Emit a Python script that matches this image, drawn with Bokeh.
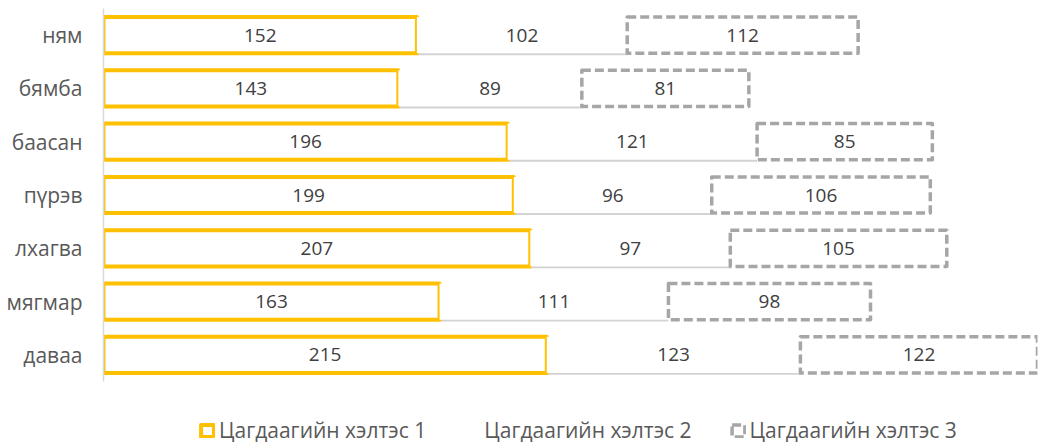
import numpy as np
from bokeh.plotting import figure
from bokeh.models import ColumnDataSource, Range1d, Legend, LegendItem, FixedTicker
from bokeh.transform import dodge
from bokeh.core.properties import value
from bokeh.embed import file_html
from bokeh.resources import INLINE

# ---- data (top to bottom as in the chart) ----
days = ["ням", "бямба", "баасан", "пүрэв", "лхагва", "мягмар", "даваа"]
series_names = ["Цагдаагийн хэлтэс 1", "Цагдаагийн хэлтэс 2", "Цагдаагийн хэлтэс 3"]
s1 = [152, 143, 196, 199, 207, 163, 215]
s2 = [102, 89, 121, 96, 97, 111, 123]
s3 = [112, 81, 85, 106, 105, 98, 122]

XMAX = 453
FONT = "Open Sans"

n = len(days)
ypos = list(range(n - 1, -1, -1))  # first category at the top
a1, a2, a3 = np.array(s1), np.array(s2), np.array(s3)
l1 = np.zeros(n); r1 = a1
l2 = r1; r2 = r1 + a2
l3 = r2; r3 = r2 + a3

src = ColumnDataSource(dict(
    y=ypos,
    l1=l1, r1=r1, l2=l2, r2=r2, l3=l3, r3=r3,
    c1=(l1 + np.minimum(r1, XMAX)) / 2,
    c2=(l2 + np.minimum(r2, XMAX)) / 2,
    c3=(l3 + np.minimum(r3, XMAX)) / 2,
    t1=[str(v) for v in s1], t2=[str(v) for v in s2], t3=[str(v) for v in s3],
))

p = figure(width=1040, height=444, output_backend="svg", toolbar_location=None,
           y_range=Range1d(-1.682, n - 0.5),
           x_range=Range1d(0, XMAX),
           min_border_left=103, min_border_right=3, min_border_top=8, min_border_bottom=0)
p.outline_line_color = None
p.xgrid.visible = False
p.ygrid.visible = False
p.xaxis.visible = False
p.background_fill_color = "white"

H = 0.68
shadow = p.hbar(y=dodge("y", -0.035), left="l2", right="r2", height=H, source=src,
                fill_color="#c8c8c8", fill_alpha=0.8, line_color=None)
g1 = p.hbar(y="y", left="l1", right="r1", height=H, source=src,
            fill_color="white", line_color="#FFC000", line_width=4, line_join="round")
g2 = p.hbar(y="y", left="l2", right="r2", height=H, source=src,
            fill_color="white", line_color=None)
g3 = p.hbar(y="y", left="l3", right="r3", height=H, source=src,
            fill_color="white", line_color="#A6A6A6", line_width=3.5, line_dash="9 4", line_join="round")

for c, t in (("c1", "t1"), ("c2", "t2"), ("c3", "t3")):
    p.text(x=c, y="y", text=t, source=src, text_align="center", text_baseline="middle",
           text_font=value(FONT), text_font_size="19px", text_color="#404040")

# y axis (category labels)
p.yaxis.ticker = FixedTicker(ticks=ypos)
p.yaxis.major_label_overrides = {yv: d for yv, d in zip(ypos, days)}
p.yaxis.bounds = (-0.5, n - 0.5)
p.yaxis.axis_line_color = "#D9D9D9"
p.yaxis.axis_line_width = 1.5
p.yaxis.major_tick_line_color = None
p.yaxis.minor_tick_line_color = None
p.yaxis.major_tick_out = 0
p.yaxis.major_label_text_font = FONT
p.yaxis.major_label_text_font_size = "21px"
p.yaxis.major_label_text_color = "#595959"
p.yaxis.major_label_standoff = 21

legend = Legend(items=[
    LegendItem(label=series_names[0], renderers=[g1]),
    LegendItem(label=series_names[1], renderers=[g2]),
    LegendItem(label=series_names[2], renderers=[g3]),
], orientation="horizontal", location=(96, 0))
legend.border_line_color = None
legend.background_fill_alpha = 0
legend.margin = 0
legend.padding = 0
legend.spacing = 38
legend.glyph_width = 16
legend.glyph_height = 15
legend.label_height = 20
legend.label_standoff = 4
legend.label_text_font = FONT
legend.label_text_font_size = "21px"
legend.label_text_color = "#595959"
p.add_layout(legend, "center")

open("out.html", "w").write(file_html(p, INLINE))
